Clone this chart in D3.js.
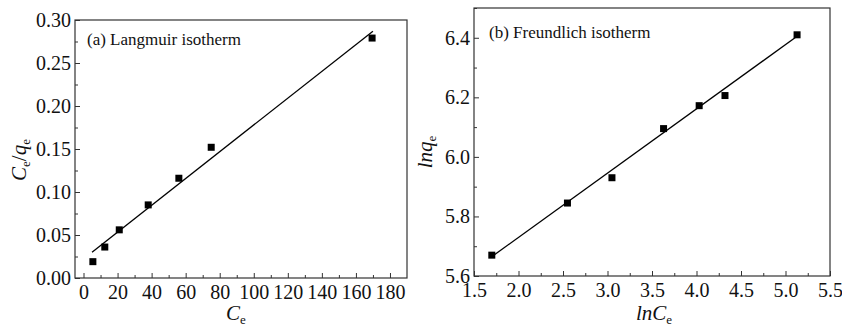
<!DOCTYPE html>
<html>
<head>
<meta charset="utf-8">
<script src="https://cdn.jsdelivr.net/npm/d3@7"></script>
<style>
  body { margin: 0; background: #fff; }
  svg { display: block; }
  svg text { font-family: "Times New Roman", Times, "Liberation Serif", "DejaVu Serif", serif; }
  .tick text { font-size: 20px; fill: #111; }
  .tick line { stroke: #333; }
  .domain { display: none; }
  .lbl { fill: #111; }
</style>
</head>
<body>
<div id="chart"></div>
<script>
// (a) Langmuir data
const langCe = [5.5, 12.5, 21, 38, 56, 75, 169.5];
const langCeQe = [0.019, 0.036, 0.056, 0.085, 0.116, 0.152, 0.279];
const langFitX = [5, 170];
const langFitY = [0.030, 0.287];
const langXTicks = [0, 20, 40, 60, 80, 100, 120, 140, 160, 180];
const langYTicks = [0.00, 0.05, 0.10, 0.15, 0.20, 0.25, 0.30];

// (b) Freundlich data
const frLnCe = [1.70, 2.55, 3.05, 3.63, 4.03, 4.32, 5.13];
const frLnQe = [5.67, 5.845, 5.93, 6.095, 6.172, 6.206, 6.41];
const frFitX = [1.70, 5.13];
const frFitY = [5.665, 6.405];
const frXTicks = [1.5, 2.0, 2.5, 3.0, 3.5, 4.0, 4.5, 5.0, 5.5];
const frYTicks = [5.6, 5.8, 6.0, 6.2, 6.4];

const width = 842, height = 329;
const serif = "'Times New Roman', Times, 'Liberation Serif', 'DejaVu Serif', serif";

const svg = d3.select("#chart").append("svg")
  .attr("width", width)
  .attr("height", height);

function panel(opt) {
  const x = d3.scaleLinear().domain(opt.xDomain).range([opt.left, opt.right]);
  const y = d3.scaleLinear().domain(opt.yDomain).range([opt.bottom, opt.top]);
  const g = svg.append("g");

  // minor ticks
  g.append("g")
    .attr("transform", "translate(0," + opt.bottom + ")")
    .call(d3.axisBottom(x).tickValues(opt.xMinor).tickSize(-3).tickFormat(""));
  g.append("g")
    .attr("transform", "translate(" + opt.left + ",0)")
    .call(d3.axisLeft(y).tickValues(opt.yMinor).tickSize(-3).tickFormat(""));

  // major ticks
  g.append("g")
    .attr("transform", "translate(0," + opt.bottom + ")")
    .call(d3.axisBottom(x).tickValues(opt.xTicks).tickSize(-5).tickPadding(7).tickFormat(opt.xFmt))
    .attr("font-family", serif).attr("font-size", 20);
  g.append("g")
    .attr("transform", "translate(" + opt.left + ",0)")
    .call(d3.axisLeft(y).tickValues(opt.yTicks).tickSize(-5).tickPadding(4).tickFormat(opt.yFmt))
    .attr("font-family", serif).attr("font-size", 20);

  // frame
  g.append("rect")
    .attr("x", opt.left).attr("y", opt.top)
    .attr("width", opt.right - opt.left).attr("height", opt.bottom - opt.top)
    .attr("fill", "none").attr("stroke", "#333").attr("stroke-width", 1.2);

  // fit line
  g.append("line")
    .attr("x1", x(opt.fitX[0])).attr("y1", y(opt.fitY[0]))
    .attr("x2", x(opt.fitX[1])).attr("y2", y(opt.fitY[1]))
    .attr("stroke", "#000").attr("stroke-width", 1.3);

  // points
  g.selectAll("rect.pt")
    .data(opt.xs)
    .enter().append("rect")
    .attr("class", "pt")
    .attr("x", (d, i) => x(d) - 3.5)
    .attr("y", (d, i) => y(opt.ys[i]) - 3.5)
    .attr("width", 7).attr("height", 7)
    .attr("fill", "#000");

  // inset label
  g.append("text")
    .attr("class", "lbl")
    .attr("x", opt.noteX).attr("y", opt.noteY)
    .attr("font-family", serif)
    .style("font-size", "17px")
    .text(opt.note);
  return g;
}

// minor tick helpers
function minors(ticks) {
  const out = [];
  for (let i = 0; i < ticks.length - 1; i++) out.push((ticks[i] + ticks[i + 1]) / 2);
  return out;
}

panel({
  left: 75, right: 407, top: 20, bottom: 278,
  xDomain: [-5, 190], yDomain: [0, 0.30],
  xTicks: langXTicks, yTicks: langYTicks,
  xMinor: minors(langXTicks), yMinor: minors(langYTicks),
  xFmt: d3.format("d"), yFmt: d3.format(".2f"),
  xs: langCe, ys: langCeQe, fitX: langFitX, fitY: langFitY,
  note: "(a) Langmuir isotherm", noteX: 87, noteY: 45
});

panel({
  left: 474, right: 830, top: 8, bottom: 276,
  xDomain: [1.5, 5.5], yDomain: [5.6, 6.5],
  xTicks: frXTicks, yTicks: frYTicks,
  xMinor: minors(frXTicks), yMinor: minors(frYTicks).concat([6.5]),
  xFmt: d3.format(".1f"), yFmt: d3.format(".1f"),
  xs: frLnCe, ys: frLnQe, fitX: frFitX, fitY: frFitY,
  note: "(b) Freundlich isotherm", noteX: 489, noteY: 38
});

// axis titles
function title(x, y, rot, parts) {
  const t = svg.append("text")
    .attr("class", "lbl")
    .attr("text-anchor", "middle")
    .attr("font-family", serif)
    .attr("transform", "translate(" + x + "," + y + ") rotate(" + rot + ")")
    .style("font-size", "21px");
  parts.forEach(p => {
    const s = t.append("tspan").text(p.t);
    if (p.it) s.style("font-style", "italic");
    if (p.sub) s.attr("dy", p.dy || 4).style("font-size", "13px");
    if (p.up) s.attr("dy", -4);
  });
}

title(236, 320, 0, [{t: "C", it: true}, {t: "e", sub: true}]);
title(26, 160, -90, [{t: "C", it: true}, {t: "e", sub: true}, {t: "/", up: true}, {t: "q", it: true}, {t: "e", sub: true}]);
title(654, 320, 0, [{t: "lnC", it: true}, {t: "e", sub: true}]);
title(432, 152, -90, [{t: "lnq", it: true}, {t: "e", sub: true}]);
</script>
</body>
</html>
